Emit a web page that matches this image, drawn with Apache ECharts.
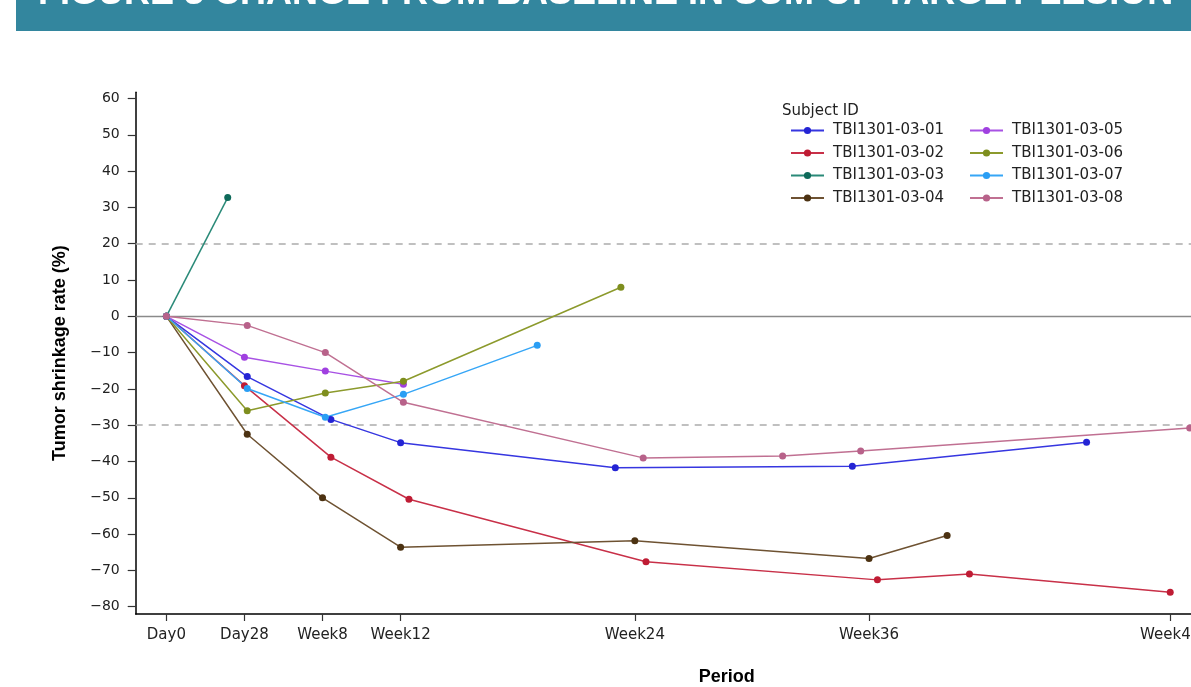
<!DOCTYPE html>
<html>
<head>
<meta charset="utf-8">
<script src="https://cdn.jsdelivr.net/npm/echarts@6/dist/echarts.min.js"></script>
<style>
  html, body { margin: 0; padding: 0; overflow: hidden; background: #fff; }
  /* the plot runs past the right edge of the page, as in the report layout */
  #chart { width: 1330px; height: 687px; }
</style>
</head>
<body>
<div id="chart"></div>
<script>
// Subjects (legend order: first column 01-04, second column 05-08)
const subjectIds = [
  'TBI1301-03-01', 'TBI1301-03-02', 'TBI1301-03-03', 'TBI1301-03-04',
  'TBI1301-03-05', 'TBI1301-03-06', 'TBI1301-03-07', 'TBI1301-03-08'
];

// Study day of each assessment and % change from baseline, per subject
const day01 = [0, 29, 59, 84, 161, 246, 330];
const chg01 = [0, -16.6, -28.4, -34.8, -41.7, -41.3, -34.7];
const day02 = [0, 28, 59, 87, 172, 255, 288, 360];
const chg02 = [0, -19.1, -38.8, -50.4, -67.6, -72.6, -71.0, -76.0];
const day03 = [0, 22];
const chg03 = [0, 32.7];
const day04 = [0, 29, 56, 84, 168, 252, 280];
const chg04 = [0, -32.5, -50.0, -63.6, -61.8, -66.7, -60.4];
const day05 = [0, 28, 57, 85];
const chg05 = [0, -11.3, -15.1, -18.7];
const day06 = [0, 29, 57, 85, 163];
const chg06 = [0, -26.0, -21.1, -17.9, 8.0];
const day07 = [0, 29, 57, 85, 133];
const chg07 = [0, -19.9, -27.8, -21.5, -8.0];
const day08 = [0, 29, 57, 85, 171, 221, 249, 367];
const chg08 = [0, -2.5, -10.0, -23.7, -39.0, -38.5, -37.1, -30.8];

const allDays = [day01, day02, day03, day04, day05, day06, day07, day08];
const allChanges = [chg01, chg02, chg03, chg04, chg05, chg06, chg07, chg08];

// Visit ticks on the x axis
const tickDays = [0, 28, 56, 84, 168, 252, 360];
const tickLabels = ['Day0', 'Day28', 'Week8', 'Week12', 'Week24', 'Week36', 'Week48'];

// y axis ticks and reference lines (PD +20%, PR -30%)
const yTicks = [-80, -70, -60, -50, -40, -30, -20, -10, 0, 10, 20, 30, 40, 50, 60];
const refZero = 0;
const refPD = 20;
const refPR = -30;

const lineColors = ['#3636e0', '#c83048', '#2a8a78', '#6e5232', '#a852e4', '#8c9a2c', '#36a6f6', '#c07092'];
const markerColors = ['#2424d4', '#bf1c34', '#0e6a5a', '#4c3212', '#a040e0', '#7e8e1e', '#2a9ef4', '#b8628a'];

const series = subjectIds.map((id, i) => {
  const s = {
    name: id,
    type: 'line',
    data: allDays[i].map((d, k) => [d, allChanges[i][k]]),
    symbol: 'circle',
    symbolSize: 7,
    lineStyle: { color: lineColors[i], width: 1.5 },
    itemStyle: { color: markerColors[i] },
    emphasis: { disabled: true },
    z: 3
  };
  if (i === 0) {
    s.markLine = {
      silent: true,
      z: 1,
      symbol: ['none', 'none'],
      label: { show: false },
      emphasis: { disabled: true },
      data: [
        { yAxis: refZero, lineStyle: { type: 'solid', color: '#8a8a8a', width: 1.3 } },
        { yAxis: refPD, lineStyle: { type: [7, 6], color: '#acacac', width: 1.6 } },
        { yAxis: refPR, lineStyle: { type: [7, 6], color: '#acacac', width: 1.6 } }
      ]
    };
  }
  return s;
});

const legendText = { fontFamily: 'DejaVu Sans', fontSize: 15, color: '#222', lineHeight: 16, padding: [0, 0, 0, 4] };
const legendBase = {
  orient: 'vertical', top: 122.5, padding: 0, itemWidth: 33, itemHeight: 9, itemGap: 6.5,
  selectedMode: false, textStyle: legendText
};

const chart = echarts.init(document.getElementById('chart'), null, { renderer: 'canvas' });
chart.setOption({
  animation: false,
  backgroundColor: '#fff',
  grid: { left: 135.7, right: 12, top: 92.3, bottom: 73, outerBoundsMode: 'none' },
  xAxis: {
    type: 'value', min: -11, max: 413,
    name: 'Period', nameLocation: 'middle', nameGap: 54,
    nameTextStyle: { fontFamily: 'Liberation Sans', fontWeight: 'bold', fontSize: 18, color: '#000' },
    axisLine: { onZero: false, lineStyle: { color: '#000', width: 1.5 } },
    axisTick: { customValues: tickDays, length: 7, lineStyle: { color: '#333', width: 1.2 } },
    axisLabel: {
      customValues: tickDays, margin: 14,
      formatter: v => tickLabels[tickDays.indexOf(v)],
      fontFamily: 'DejaVu Sans', fontSize: 15, color: '#222'
    },
    splitLine: { show: false }
  },
  yAxis: {
    type: 'value', min: -82, max: 61.7,
    name: 'Tumor shrinkage rate (%)', nameLocation: 'middle', nameGap: 67,
    nameTextStyle: { fontFamily: 'Liberation Sans', fontWeight: 'bold', fontSize: 18, color: '#000' },
    axisLine: { onZero: false, lineStyle: { color: '#000', width: 1.5 } },
    axisTick: { customValues: yTicks, length: 8, lineStyle: { color: '#333', width: 1.2 } },
    axisLabel: {
      customValues: yTicks, margin: 16,
      formatter: v => String(v).replace('-', '\u2212'),
      fontFamily: 'DejaVu Sans', fontSize: 14, color: '#222'
    },
    splitLine: { show: false }
  },
  legend: [
    Object.assign({}, legendBase, { left: 790, data: subjectIds.slice(0, 4) }),
    Object.assign({}, legendBase, { left: 969, data: subjectIds.slice(4) })
  ],
  graphic: [
    { type: 'rect', left: 16, top: 0, silent: true, shape: { width: 1330, height: 31 }, style: { fill: '#33869e' } },
    { type: 'text', x: 38, y: -6, silent: true,
      style: { text: 'FIGURE 3 CHANGE FROM BASELINE IN SUM OF TARGET LESION', fill: '#fff',
               font: 'bold 36px "Liberation Sans"', verticalAlign: 'middle' } },
    { type: 'text', x: 782, y: 111, silent: true,
      style: { text: 'Subject ID', fill: '#222', font: '15px "DejaVu Sans"', verticalAlign: 'middle' } }
  ],
  series: series
});
</script>
</body>
</html>
